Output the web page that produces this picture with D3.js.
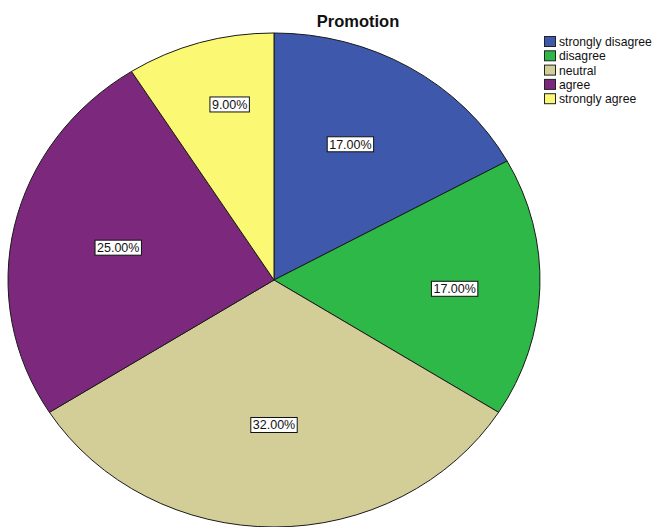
<!DOCTYPE html>
<html>
<head>
<meta charset="utf-8">
<script src="https://cdn.jsdelivr.net/npm/d3@7"></script>
<style>
  html, body { margin: 0; padding: 0; background: #fff; }
  svg { display: block; }
</style>
</head>
<body>
<svg id="chart" width="654" height="527"></svg>
<script>
// Survey responses on promotion, percent of respondents
const categories = ["strongly disagree", "disagree", "neutral", "agree", "strongly agree"];
const percents = [17, 17, 32, 25, 9];
const colors = ["#3E58AC", "#2EB848", "#D3CE97", "#7C287D", "#FBF873"];
const title = "Promotion";

// Layout
const W = 654, H = 527;
const cx = 274, cy = 280;
const rx = 266, ry = 247;
// per-slice label placement: fraction of radius and angular nudge (degrees)
const labelRadius = [0.62, 0.68, 0.587, 0.60, 0.73];
const labelShift = [-3, 1.2, 0, 0, 3];

const svg = d3.select("#chart");

const pie = d3.pie().sort(null).value(d => d.value);
const arcs = pie(categories.map((c, i) => ({ name: c, value: percents[i], color: colors[i] })));

const arc = d3.arc().innerRadius(0).outerRadius(rx);

const pieG = svg.append("g")
  .attr("transform", `translate(${cx},${cy}) scale(1,${ry / rx})`);

pieG.selectAll("path")
  .data(arcs)
  .join("path")
  .attr("d", arc)
  .attr("fill", d => d.data.color)
  .attr("stroke", "#1a1a1a")
  .attr("stroke-width", 1)
  .attr("vector-effect", "non-scaling-stroke");

// Percentage labels in boxed tags
const fmt = d3.format(".2f");
const labelG = svg.append("g");
arcs.forEach((d, i) => {
  const a = (d.startAngle + d.endAngle) / 2 + labelShift[i] * Math.PI / 180;
  const x = cx + rx * labelRadius[i] * Math.sin(a);
  const y = cy - ry * labelRadius[i] * Math.cos(a);
  const g = labelG.append("g").attr("transform", `translate(${x},${y})`);
  const t = g.append("text")
    .attr("text-anchor", "middle")
    .attr("dy", "0.36em")
    .attr("font-family", "Liberation Sans, Arial, sans-serif")
    .attr("font-size", 12.5)
    .attr("fill", "#111")
    .text(fmt(d.data.value) + "%");
  const bb = t.node().getBBox();
  g.insert("rect", "text")
    .attr("x", bb.x - 2)
    .attr("y", -7.5)
    .attr("width", bb.width + 4)
    .attr("height", 15)
    .attr("fill", "#fff")
    .attr("stroke", "#111")
    .attr("stroke-width", 1);
});

// Title
svg.append("text")
  .attr("x", 358)
  .attr("y", 27)
  .attr("text-anchor", "middle")
  .attr("font-family", "Liberation Sans, Arial, sans-serif")
  .attr("font-weight", "bold")
  .attr("font-size", 16.5)
  .attr("fill", "#111")
  .text(title);

// Legend
const legend = svg.append("g").attr("transform", "translate(544,36)");
const row = legend.selectAll("g")
  .data(categories)
  .join("g")
  .attr("transform", (d, i) => `translate(0,${i * 14.3})`);
row.append("rect")
  .attr("x", 0.5).attr("y", 0.5)
  .attr("width", 11).attr("height", 10)
  .attr("fill", (d, i) => colors[i])
  .attr("stroke", "#222")
  .attr("stroke-width", 1);
row.append("text")
  .attr("x", 15)
  .attr("y", 10)
  .attr("font-family", "Liberation Sans, Arial, sans-serif")
  .attr("font-size", 12.2)
  .attr("fill", "#111")
  .text(d => d);
</script>
</body>
</html>
